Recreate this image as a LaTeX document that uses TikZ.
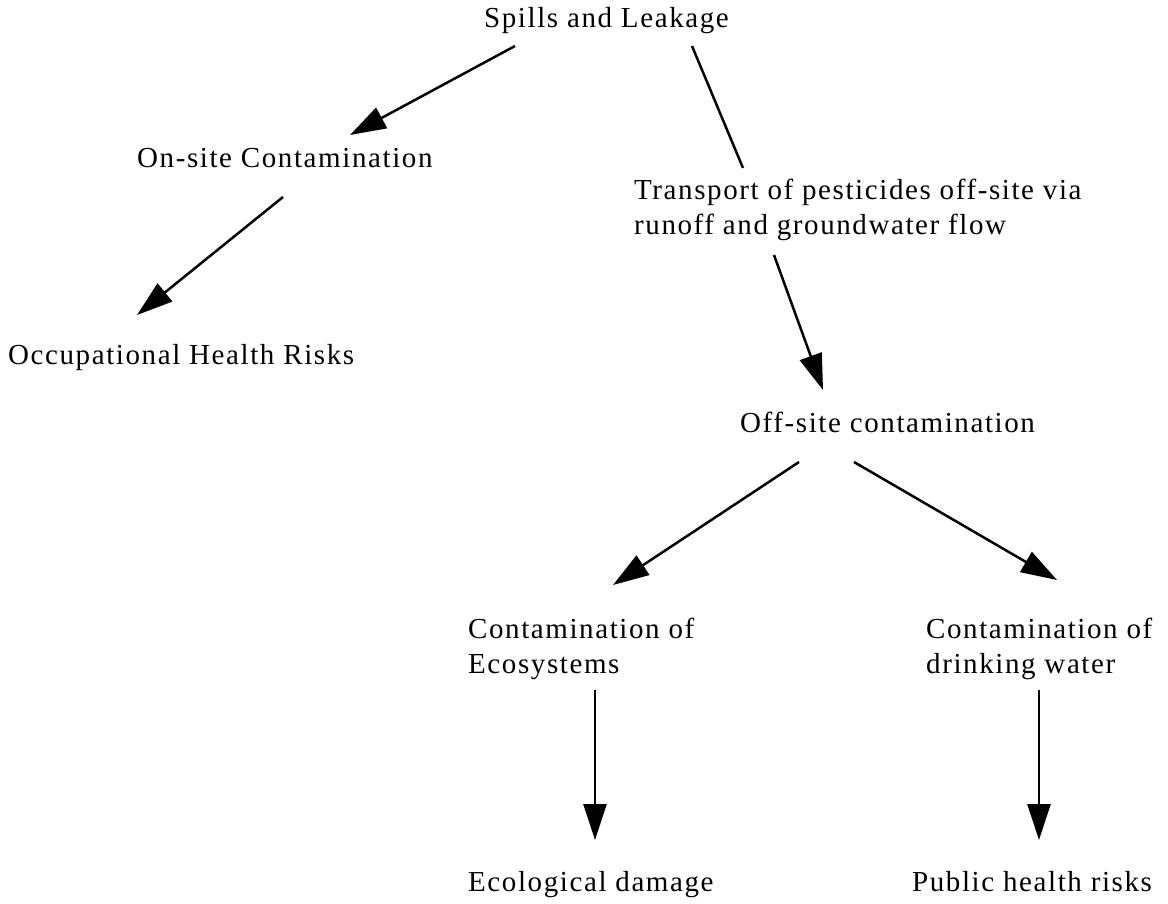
\documentclass[tikz,border=0pt]{standalone}
\usepackage{fontspec}
\setmainfont{Liberation Serif}[LetterSpace=5.5]
\usetikzlibrary{arrows.meta}
\begin{document}
\begin{tikzpicture}[x=1pt,y=-1pt,
  txt/.style={font=\fontsize{29}{35}\selectfont, inner sep=0pt, anchor=base west, align=left},
  arr/.style={line width=2.5pt, -{Triangle[length=36pt,width=23pt]}},
  ln/.style={line width=2.5pt}]
\path[use as bounding box] (0,0) rectangle (1168,903);
\node[txt] (spills) at (484,27) {Spills and Leakage};
\node[txt] (onsite) at (137,167) {On-site Contamination};
% two-line nodes: base anchor is the baseline of the last line
\node[txt] (transport) at (634,234) {Transport of pesticides off-site via\\runoff and groundwater flow};
\node[txt] (occ) at (8,364) {Occupational Health Risks};
\node[txt] (offsite) at (740,432) {Off-site contamination};
\node[txt] (ecosys) at (468,673) {Contamination of\\Ecosystems};
\node[txt] (drink) at (926,673) {Contamination of\\drinking water};
\node[txt] (ecol) at (468,891) {Ecological damage};
\node[txt] (public) at (912,891) {Public health risks};
\coordinate (s1) at (515,46); \coordinate (e1) at (350,135);
\coordinate (s2) at (692,46); \coordinate (e2) at (743,168);
\coordinate (s3) at (283,197); \coordinate (e3) at (137,315);
\coordinate (s4) at (774,255); \coordinate (e4) at (823,390);
\coordinate (s5) at (799,462); \coordinate (e5) at (613,585);
\coordinate (s6) at (854,462); \coordinate (e6) at (1057,580);
\coordinate (s7) at (595,690); \coordinate (e7) at (595,840);
\coordinate (s8) at (1039,690); \coordinate (e8) at (1039,840);
\draw[arr] (s1) -- (e1);
\draw[ln] (s2) -- (e2);
\draw[arr] (s3) -- (e3);
\draw[arr] (s4) -- (e4);
\draw[arr] (s5) -- (e5);
\draw[arr] (s6) -- (e6);
\draw[arr] (s7) -- (e7);
\draw[arr] (s8) -- (e8);
\end{tikzpicture}
\end{document}
